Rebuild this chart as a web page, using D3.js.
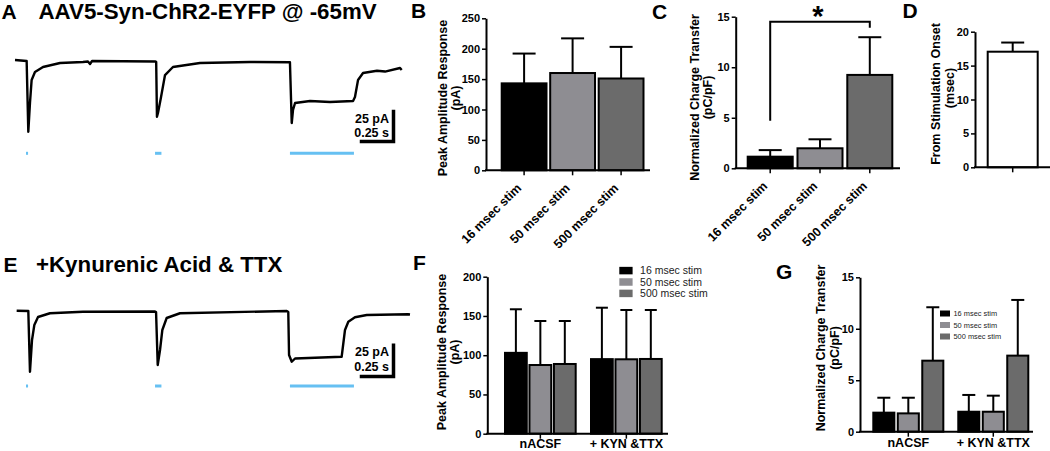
<!DOCTYPE html>
<html><head><meta charset="utf-8">
<script src="https://cdn.jsdelivr.net/npm/d3@7"></script>
<style>
body{margin:0;background:#fff}
svg{display:block}
text{font-family:"Liberation Sans",Arial,Helvetica,sans-serif;fill:#000}
</style>
</head><body>
<svg id="fig" width="1050" height="451"></svg>
<script>
// ---------------- DATA ----------------
const stimCategories = ["16 msec stim", "50 msec stim", "500 msec stim"];
const groupLabels = ["nACSF", "+ KYN &TTX"];

// Panel A trace (time in s, current in pA)
const traceTimeA = [0, 0.091, 0.104, 0.117, 0.130, 0.156, 0.219, 0.352, 0.531, 0.570, 0.586, 0.602, 1.094, 1.103, 1.109, 1.117, 1.141, 1.172, 1.234, 1.445, 1.836, 2.148, 2.162, 2.172, 2.188, 2.305, 2.461, 2.641, 2.656, 2.680, 2.719, 2.828, 2.891, 3.008, 3.021];
const traceCurrentA = [0.8, 0, -58.9, -35, -15.8, -9.2, -5, -1.7, -0.8, -0.4, -2.5, 0, -0.4, -0.8, -46.4, -43.3, -30, -11.7, -5, -1.7, -0.8, -1.1, -51.7, -40.8, -35, -33.3, -34.2, -33.3, -30, -15.8, -10, -8.1, -8.8, -5.8, -7.5];

// Panel E trace
const traceTimeE = [0.013, 0.104, 0.117, 0.133, 0.151, 0.180, 0.273, 0.531, 1.094, 1.102, 1.115, 1.133, 1.151, 1.185, 1.289, 2.123, 2.135, 2.141, 2.162, 2.188, 2.552, 2.578, 2.604, 2.656, 2.748, 3.070, 3.086];
const traceCurrentE = [0.2, 0, -48.6, -23.2, -11.2, -4.8, -1.8, -0.6, -0.4, -0.8, -43.2, -31.2, -15.2, -5.6, -1.8, 0, -0.8, -35.2, -40.6, -38, -36.6, -15.2, -8.6, -5, -3.2, -2.6, -2.8];

// light stimulation windows (s)
const stimOnsets = [0.086, 1.094, 2.148];
const stimDurations = [0.016, 0.05, 0.5];

// Panel B: peak amplitude (pA)
const peakMeans = [143, 160, 151];
const peakSEM = [49, 57, 52];
// Panel C: normalized charge transfer (pC/pF)
const chargeMeans = [1.15, 1.98, 9.24];
const chargeSEM = [0.65, 0.89, 3.73];
// Panel D: latency from stimulation onset (msec)
const latencyMeans = [17.05];
const latencySEM = [1.35];

// Panel F: peak amplitude, nACSF vs +KYN&TTX
const peakNacsf = [103, 87.5, 88.8];
const peakNacsfSEM = [55.5, 56.1, 54.8];
const peakKyn = [95, 94.8, 95.2];
const peakKynSEM = [65.5, 62.8, 62.4];
// Panel G: charge transfer, nACSF vs +KYN&TTX
const chargeNacsf = [1.85, 1.78, 6.9];
const chargeNacsfSEM = [1.45, 1.52, 5.19];
const chargeKyn = [1.94, 1.94, 7.39];
const chargeKynSEM = [1.63, 1.56, 5.41];

const ticksB = [0, 50, 100, 150, 200, 250];
const ticksC = [0, 5, 10, 15];
const ticksD = [0, 5, 10, 15, 20];
const ticksF = [0, 50, 100, 150, 200];
const ticksG = [0, 5, 10, 15];

// ---------------- STYLE ----------------
const barColors = ["#000000", "#8e8d92", "#6b6b6b"];
const stimBlue = "#66c0f2";
const svg = d3.select("#fig");

function txt(g, x, y, s, size, weight, anchor) {
  return g.append("text").attr("x", x).attr("y", y).text(s)
    .style("font-size", size + "px").style("font-weight", weight || "bold")
    .attr("text-anchor", anchor || "start");
}
function rotTitle(g, cx, cy, s, size) {
  g.append("text").attr("transform", `translate(${cx},${cy}) rotate(-90)`)
    .attr("text-anchor", "middle").attr("dy", "0.35em")
    .style("font-size", (size || 12.5) + "px").style("font-weight", "bold").text(s);
}

// ---------------- TRACES (A, E) ----------------
const traceX = d3.scaleLinear().domain([0, 3]).range([15, 399]);
function drawTrace(times, currents, y, stimY, bar, textY) {
  const g = svg.append("g");
  const pts = times.map((t, i) => [t, currents[i]]);
  g.append("path").datum(pts)
    .attr("d", d3.line().x(d => traceX(d[0])).y(d => y(d[1])))
    .attr("fill", "none").attr("stroke", "#000").attr("stroke-width", 2.4)
    .attr("stroke-linejoin", "round");
  g.selectAll("line.stim").data(stimOnsets).join("line")
    .attr("x1", (d) => traceX(d))
    .attr("x2", (d, i) => Math.max(traceX(d + stimDurations[i]), traceX(d) + 2))
    .attr("y1", stimY).attr("y2", stimY)
    .attr("stroke", stimBlue).attr("stroke-width", 3);
  // scale bar 25 pA / 0.25 s
  const wx = traceX(0.25) - traceX(0), hy = y(-25) - y(0);
  g.append("path")
    .attr("d", `M${bar[0] - wx},${bar[1]} H${bar[0]} V${bar[1] - hy}`)
    .attr("fill", "none").attr("stroke", "#000").attr("stroke-width", 3.5)
    .attr("stroke-linecap", "square");
  txt(g, 389, textY[0], "25 pA", 12.5, "bold", "end");
  txt(g, 389, textY[1], "0.25 s", 12.5, "bold", "end");
}
const yA = d3.scaleLinear().domain([0, -50]).range([61, 121]);
const yE = d3.scaleLinear().domain([0, -50]).range([311, 373.5]);
drawTrace(traceTimeA, traceCurrentA, yA, 153.3, [393.5, 141.5], [123, 137.3]);
drawTrace(traceTimeE, traceCurrentE, yE, 386, [393.5, 376.5], [355.5, 371]);

txt(svg, 1.5, 19, "A", 21);
txt(svg, 38.5, 19, "AAV5-Syn-ChR2-EYFP @ -65mV", 22.3);
txt(svg, 3.5, 271.7, "E", 21);
txt(svg, 36, 271.7, "+Kynurenic Acid & TTX", 22.3);

// ---------------- simple bar panels (B, C, D) ----------------
function axesCommon(g, y, axisX, ticks, baseY, xEnd) {
  const ax = g.append("g").attr("transform", `translate(${axisX},0)`)
    .call(d3.axisLeft(y).tickValues(ticks).tickSize(4).tickSizeOuter(0).tickPadding(2).tickFormat(d3.format("d")));
  ax.select(".domain").attr("stroke-width", 2).attr("stroke", "#000");
  ax.selectAll(".tick line").attr("stroke-width", 1.5).attr("stroke", "#000");
  ax.selectAll(".tick text").style("font-size", "11px").style("font-weight", "bold")
    .style("font-family", '"Liberation Sans",Arial,sans-serif').attr("fill", "#000");
  g.append("line").attr("x1", axisX - 1).attr("x2", xEnd).attr("y1", baseY).attr("y2", baseY)
    .attr("stroke", "#000").attr("stroke-width", 2);
}
function barPanel(o) {
  const g = svg.append("g");
  const x = d3.scaleBand().domain(o.cats).range(o.xRange).paddingInner(o.pad).paddingOuter(0);
  const y = d3.scaleLinear().domain(o.yDomain).range(o.yRange);
  const baseY = y(0);
  g.selectAll("line.xt").data(o.cats).join("line")
    .attr("x1", d => x(d) + x.bandwidth() / 2).attr("x2", d => x(d) + x.bandwidth() / 2)
    .attr("y1", baseY).attr("y2", baseY + 5).attr("stroke", "#000").attr("stroke-width", 1.5);
  o.cats.forEach((c, i) => {
    const cx = x(c) + x.bandwidth() / 2;
    const top = y(o.means[i] + o.sem[i]);
    g.append("line").attr("x1", cx).attr("x2", cx).attr("y1", y(o.means[i])).attr("y2", top)
      .attr("stroke", "#000").attr("stroke-width", 2);
    g.append("line").attr("x1", cx - o.capW / 2).attr("x2", cx + o.capW / 2).attr("y1", top).attr("y2", top)
      .attr("stroke", "#000").attr("stroke-width", 2);
  });
  g.selectAll("rect").data(o.cats).join("rect")
    .attr("x", d => x(d)).attr("width", x.bandwidth())
    .attr("y", (d, i) => y(o.means[i])).attr("height", (d, i) => baseY - y(o.means[i]))
    .attr("fill", (d, i) => o.colors[i]).attr("stroke", "#000").attr("stroke-width", 2);
  axesCommon(g, y, o.axisX, o.ticks, baseY, o.xEnd);
  if (o.labels) {
    o.cats.forEach(c => {
      const cx = x(c) + x.bandwidth() / 2;
      g.append("text").attr("transform", `translate(${cx - 2},${baseY + 18.5}) rotate(-45)`)
        .attr("text-anchor", "end").style("font-size", "12.5px").style("font-weight", "bold").text(c);
    });
  }
  return { g, x, y };
}

barPanel({ cats: stimCategories, means: peakMeans, sem: peakSEM, xRange: [501.7, 643.5], pad: 0.076,
  yDomain: [0, 250], yRange: [170.3, 18.3], axisX: 486, ticks: ticksB, xEnd: 650, capW: 23,
  colors: barColors, labels: true });
rotTitle(svg, 443, 98, "Peak Amplitude Response");
rotTitle(svg, 456, 98, "(pA)");
txt(svg, 411, 18, "B", 21);

const pc = barPanel({ cats: stimCategories, means: chargeMeans, sem: chargeSEM, xRange: [747.7, 892.3], pad: 0.096,
  yDomain: [0, 15], yRange: [168.3, 16.7], axisX: 735.7, ticks: ticksC, xEnd: 900, capW: 23,
  colors: barColors, labels: true });
rotTitle(svg, 695, 97.5, "Normalized Charge Transfer");
rotTitle(svg, 708, 97.5, "(pC/pF)");
txt(svg, 652, 19, "C", 21);
// significance bracket 16 vs 500 msec
{
  const x1 = pc.x(stimCategories[0]) + pc.x.bandwidth() / 2;
  const x2 = pc.x(stimCategories[2]) + pc.x.bandwidth() / 2;
  pc.g.append("path")
    .attr("d", `M${x1},${pc.y(4.7)} V${pc.y(14.5)} H${x2} V${pc.y(13.9)}`)
    .attr("fill", "none").attr("stroke", "#000").attr("stroke-width", 2);
  txt(pc.g, (x1 + x2) / 2 - 2, 26, "*", 29, "bold", "middle");
}

barPanel({ cats: ["latency"], means: latencyMeans, sem: latencySEM, xRange: [987.7, 1037.7], pad: 0,
  yDomain: [0, 20], yRange: [167.3, 31.7], axisX: 975, ticks: ticksD, xEnd: 1050, capW: 23,
  colors: ["#ffffff"], labels: false });
rotTitle(svg, 936, 94, "From Stimulation Onset");
rotTitle(svg, 950, 88, "(msec)");
txt(svg, 902.5, 18, "D", 21);

// ---------------- grouped panels (F, G) ----------------
function groupedPanel(o) {
  const g = svg.append("g");
  const x0 = d3.scaleBand().domain(groupLabels).range(o.xRange).paddingInner(o.padOuter).paddingOuter(0);
  const x1 = d3.scaleBand().domain(stimCategories).range([0, x0.bandwidth()]).paddingInner(o.padInner).paddingOuter(0);
  const y = d3.scaleLinear().domain(o.yDomain).range(o.yRange);
  const baseY = y(0);
  groupLabels.forEach((gl, gi) => {
    const gx = x0(gl);
    g.append("line").attr("x1", gx + x0.bandwidth() / 2).attr("x2", gx + x0.bandwidth() / 2)
      .attr("y1", baseY).attr("y2", baseY + 5).attr("stroke", "#000").attr("stroke-width", 1.5);
    stimCategories.forEach((c, i) => {
      const cx = gx + x1(c) + x1.bandwidth() / 2;
      const m = o.means[gi][i], top = y(m + o.sem[gi][i]);
      g.append("line").attr("x1", cx).attr("x2", cx).attr("y1", y(m)).attr("y2", top)
        .attr("stroke", "#000").attr("stroke-width", 2);
      g.append("line").attr("x1", cx - o.capW / 2).attr("x2", cx + o.capW / 2).attr("y1", top).attr("y2", top)
        .attr("stroke", "#000").attr("stroke-width", 2);
      g.append("rect").attr("x", gx + x1(c)).attr("width", x1.bandwidth())
        .attr("y", y(m)).attr("height", baseY - y(m))
        .attr("fill", barColors[i]).attr("stroke", "#000").attr("stroke-width", 2);
    });
    txt(g, gx + x0.bandwidth() / 2, o.labelY, gl, 12.5, "bold", "middle");
  });
  axesCommon(g, y, o.axisX, o.ticks, baseY, o.xEnd);
  stimCategories.forEach((c, i) => {
    const ly = o.legY[0] + i * o.legY[1];
    g.append("rect").attr("x", o.legX).attr("y", ly - o.sw[1] / 2).attr("width", o.sw[0]).attr("height", o.sw[1])
      .attr("fill", barColors[i]);
    g.append("text").attr("x", o.legX + o.sw[0] + o.legGap).attr("y", ly).attr("dy", "0.35em")
      .style("font-size", o.legFont + "px").style("font-weight", "normal").style("fill", "#222").text(c);
  });
}

groupedPanel({ means: [peakNacsf, peakKyn], sem: [peakNacsfSEM, peakKynSEM], xRange: [505, 661.7],
  padOuter: 0.178, padInner: 0.11, yDomain: [0, 200], yRange: [433.7, 276.7], axisX: 487.3,
  ticks: ticksF, xEnd: 668, capW: 12, labelY: 447.5,
  legX: 619.3, legY: [270.6, 11.4], sw: [13.3, 7.5], legGap: 7.5, legFont: 10.5 });
rotTitle(svg, 442, 352, "Peak Amplitude Response");
rotTitle(svg, 455, 352, "(pA)");
txt(svg, 413, 269.5, "F", 21);

groupedPanel({ means: [chargeNacsf, chargeKyn], sem: [chargeNacsfSEM, chargeKynSEM], xRange: [873.3, 1028.3],
  padOuter: 0.176, padInner: 0.14, yDomain: [0, 15], yRange: [431.7, 277.3], axisX: 860,
  ticks: ticksG, xEnd: 1033, capW: 13, labelY: 447,
  legX: 940, legY: [313.5, 11.5], sw: [10, 6], legGap: 3.5, legFont: 7.4 });
rotTitle(svg, 821, 348, "Normalized Charge Transfer");
rotTitle(svg, 834.5, 348, "(pC/pF)");
txt(svg, 776, 279, "G", 21);
</script>
</body></html>
